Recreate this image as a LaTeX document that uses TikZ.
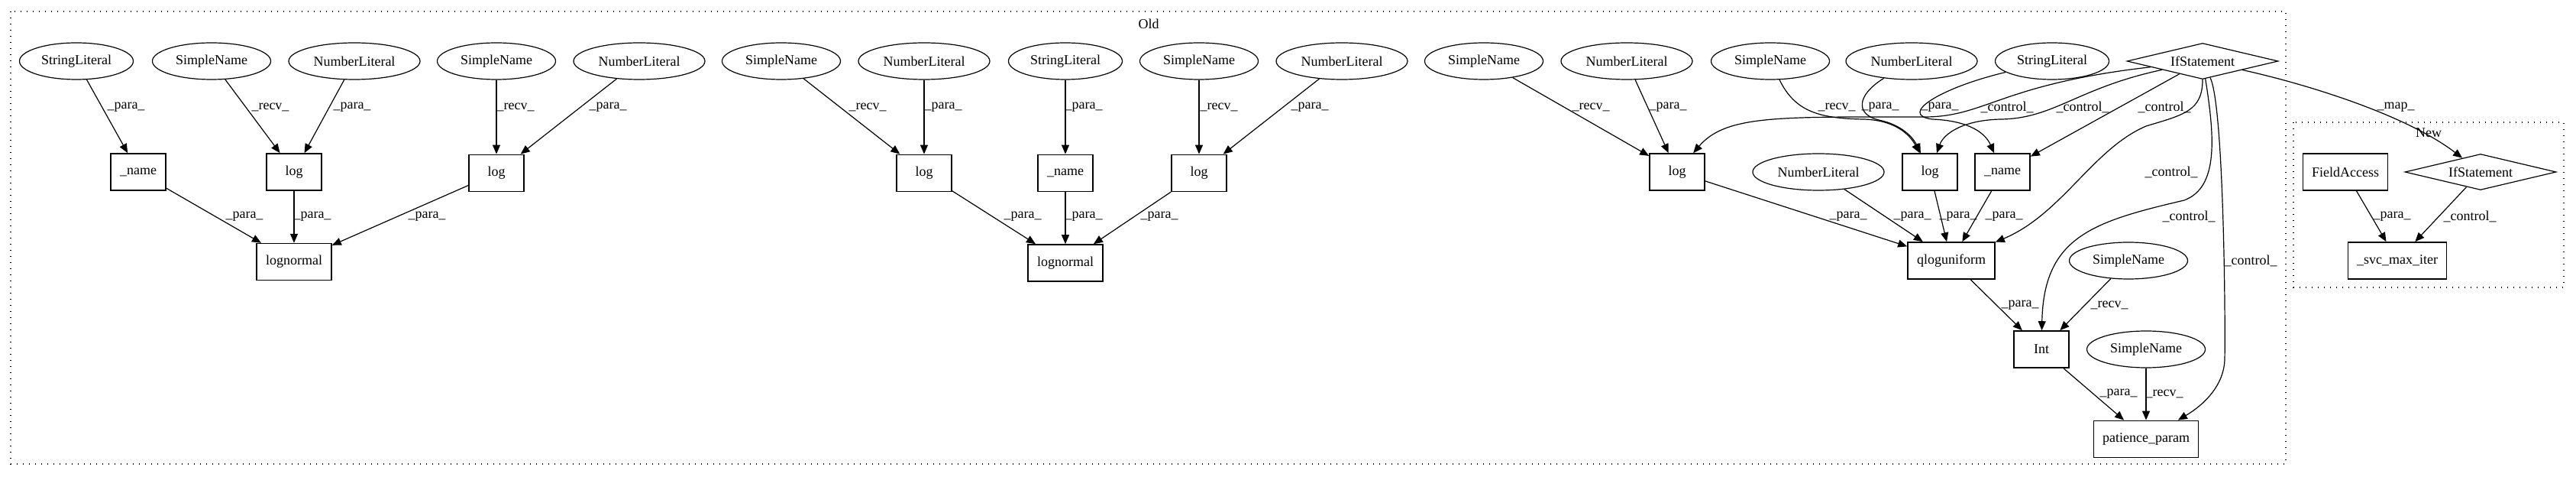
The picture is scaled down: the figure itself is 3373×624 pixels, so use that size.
\documentclass[tikz,border=0pt]{standalone}
\usepackage{fontspec}
\setmainfont{Liberation Serif}
\usepackage{tikz}
\usetikzlibrary{arrows.meta,positioning,shapes.geometric}
\tikzset{
  >={Triangle[length=6pt,width=5pt]},
  leaf/.style={ellipse,draw,line width=0.6pt,inner sep=0pt,minimum height=24pt},
  strlit/.style={leaf,minimum width=74.5pt},
  sname/.style={leaf,minimum width=77.5pt},
  numlit/.style={leaf,minimum width=86pt},
  call/.style={rectangle,draw,line width=0.8pt,inner sep=2pt,minimum width=36pt,minimum height=24pt},
  cond/.style={diamond,draw,line width=0.6pt,inner sep=0pt,aspect=4.2,minimum width=99pt,minimum height=23.5pt},
  edge/.style={->,line width=0.6pt},
  elabel/.style={inner sep=0pt},
  cluster/.style={draw,line width=0.6pt,dash pattern=on 0.6pt off 3.4pt}
}

\begin{document}
\begin{tikzpicture}[x=0.5pt,y=-0.5pt,font=\fontsize{9}{10.8}\selectfont]
  \useasboundingbox (0,0) rectangle (3373,624);

  \draw[cluster] (14,15) rectangle (2993,607);
  \node (old) at (1504,31) {Old};
  \draw[cluster] (3003,160) rectangle (3357,376);
  \node (new) at (3180,174) {New};

  % first lognormal
  \node[strlit] (sl1) at (100,80) {StringLiteral};
  \node[sname] (sn1) at (277,80) {SimpleName};
  \node[numlit] (nl1) at (464,80) {NumberLiteral};
  \node[sname] (sn2) at (650,80) {SimpleName};
  \node[numlit] (nl2) at (837,80) {NumberLiteral};
  \node[call] (name1) at (181,225) {\_name};
  \node[call] (log1) at (385,225) {log};
  \node[call,below=48.5pt of sn2] (log2) {log};
  \node[call,minimum width=49pt,below=34pt of log1] (lognorm1) {lognormal};

  \draw[edge] (sl1) -- (name1) node[elabel] at (165,140) {\_para\_};
  \draw[edge] (sn1) -- (log1) node[elabel] at (354,140) {\_recv\_};
  \draw[edge] (nl1) -- (log1) node[elabel] at (461,140) {\_para\_};
  \draw[edge] (sn2) -- (log2) node[elabel] at (675,140) {\_recv\_};
  \draw[edge] (nl2) -- (log2) node[elabel] at (796,140) {\_para\_};
  \draw[edge] (name1) -- (lognorm1) node[elabel] at (320,283) {\_para\_};
  \draw[edge] (log1) -- (lognorm1) node[elabel] at (409,283) {\_para\_};
  \draw[edge] (log2) -- (lognorm1) node[elabel] at (559,283) {\_para\_};

  % second lognormal
  \node[sname] (sn3) at (1023,80) {SimpleName};
  \node[numlit] (nl3) at (1210,80) {NumberLiteral};
  \node[strlit] (sl2) at (1395,80) {StringLiteral};
  \node[sname] (sn4) at (1570,80) {SimpleName};
  \node[numlit] (nl4) at (1757,80) {NumberLiteral};
  \node[call,below=48.5pt of nl3] (log3) {log};
  \node[call,below=48.5pt of sl2] (name2) {\_name};
  \node[call,below=48.5pt of sn4] (log4) {log};
  \node[call,minimum width=49pt,below=34pt of name2] (lognorm2) {lognormal};

  \draw[edge] (sn3) -- (log3) node[elabel] at (1136,140) {\_recv\_};
  \draw[edge] (nl3) -- (log3) node[elabel] at (1235,140) {\_para\_};
  \draw[edge] (sl2) -- (name2) node[elabel] at (1419,140) {\_para\_};
  \draw[edge] (sn4) -- (log4) node[elabel] at (1596,140) {\_recv\_};
  \draw[edge] (nl4) -- (log4) node[elabel] at (1715,140) {\_para\_};
  \draw[edge] (log3) -- (lognorm2) node[elabel] at (1339,283) {\_para\_};
  \draw[edge] (name2) -- (lognorm2) node[elabel] at (1419,283) {\_para\_};
  \draw[edge] (log4) -- (lognorm2) node[elabel] at (1518,283) {\_para\_};

  % qloguniform and patience_param
  \node[sname] (sn5) at (1943,80) {SimpleName};
  \node[numlit] (nl5) at (2130,80) {NumberLiteral};
  \node[sname] (sn6) at (2318,80) {SimpleName};
  \node[numlit] (nl6) at (2503,80) {NumberLiteral};
  \node[strlit] (sl3) at (2687,80) {StringLiteral};
  \node[cond] (ifold) at (2884,80) {IfStatement};
  \node[call] (log5) at (2196,225) {log};
  \node[numlit] (nl7) at (2381,225) {NumberLiteral};
  \node[call] (log6) at (2527,225) {log};
  \node[call] (name3) at (2622,225) {\_name};
  \node[call,minimum width=57pt] (qlog) at (2555,341) {qloguniform};
  \node[sname] (sn8) at (2787,341) {SimpleName};
  \node[call] (int) at (2673,457) {Int};
  \node[sname] (sn9) at (2810,457) {SimpleName};
  \node[call,minimum width=68.5pt,below=34pt of sn9] (param) {patience\_param};

  \draw[edge] (sn5) -- (log5) node[elabel] at (2083,140) {\_recv\_};
  \draw[edge] (nl5) -- (log5) node[elabel] at (2184,140) {\_para\_};
  \draw[edge] (sn6) .. controls (2350,145) and (2380,155) .. (2440,156)
    .. controls (2480,157) and (2500,175) .. (log6) node[elabel] at (2405,140) {\_recv\_};
  \draw[edge] (nl6) .. controls (2430,125) and (2430,150) .. (2460,157)
    .. controls (2490,163) and (2505,180) .. (log6) node[elabel] at (2462,140) {\_para\_};
  \draw[edge] (sl3) .. controls (2540,115) and (2485,150) .. (2530,156)
    .. controls (2580,158) and (2600,175) .. (name3) node[elabel] at (2540,140) {\_para\_};
  \draw[edge] (ifold) .. controls (2620,110) and (2600,153) .. (2520,153)
    .. controls (2330,153) and (2260,150) .. (log5) node[elabel] at (2628,140) {\_control\_};
  \draw[edge] (ifold) .. controls (2720,115) and (2690,155) .. (2620,156)
    .. controls (2570,157) and (2545,175) .. (log6) node[elabel] at (2727,140) {\_control\_};
  \draw[edge] (ifold) -- (name3) node[elabel] at (2834,140) {\_control\_};
  \draw[edge] (ifold) .. controls (2884,145) and (2860,150) .. (2810,165)
    .. controls (2740,195) and (2700,280) .. (qlog) node[elabel] at (2843,225) {\_control\_};
  \draw[edge] (ifold) .. controls (2900,180) and (2905,245) .. (2860,262)
    .. controls (2740,290) and (2676,310) .. (int) node[elabel] at (2866,283) {\_control\_};
  \draw[edge] (ifold) .. controls (2912,140) and (2914,420) .. (2913,470)
    .. controls (2912,505) and (2885,530) .. (param) node[elabel] at (2947,341) {\_control\_};
  \draw[edge] (log5) -- (qlog) node[elabel] at (2420,283) {\_para\_};
  \draw[edge] (nl7) -- (qlog) node[elabel] at (2504,283) {\_para\_};
  \draw[edge] (log6) -- (qlog) node[elabel] at (2564,283) {\_para\_};
  \draw[edge] (name3) -- (qlog) node[elabel] at (2624,283) {\_para\_};
  \draw[edge] (qlog) -- (int) node[elabel] at (2645,399) {\_para\_};
  \draw[edge] (sn8) -- (int) node[elabel] at (2762,399) {\_recv\_};
  \draw[edge] (int) -- (param) node[elabel] at (2774,515) {\_para\_};
  \draw[edge] (sn9) -- (param) node[elabel] at (2834,515) {\_recv\_};

  % new side
  \node[call,minimum width=55.5pt] (field) at (3071,225) {FieldAccess};
  \node[cond] (ifnew) at (3248,225) {IfStatement};
  \node[call,minimum width=64.5pt] (svc) at (3139,341) {\_svc\_max\_iter};

  \draw[edge] (ifold) .. controls (3020,110) and (3150,150) .. (ifnew) node[elabel] at (3137,140) {\_map\_};
  \draw[edge] (field) -- (svc) node[elabel] at (3132,283) {\_para\_};
  \draw[edge] (ifnew) -- (svc) node[elabel] at (3234,283) {\_control\_};
\end{tikzpicture}
\end{document}
